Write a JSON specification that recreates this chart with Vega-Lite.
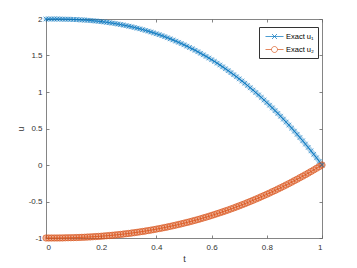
{
  "$schema": "https://vega.github.io/schema/vega-lite/v6.json",
  "autosize": "none",
  "padding": {"left": 46, "top": 19, "right": 35, "bottom": 30},
  "width": 276,
  "height": 219,
  "background": "white",
  "config": {
    "font": "Liberation Sans",
    "view": {"stroke": null},
    "axis": {
      "domainColor": "#666666",
      "domainWidth": 0.8,
      "tickColor": "#666666",
      "tickWidth": 0.8,
      "tickSize": -3,
      "labelFont": "Liberation Sans",
      "labelFontSize": 8,
      "labelColor": "#333333",
      "titleFont": "Liberation Sans",
      "titleFontSize": 9,
      "titleFontWeight": "normal",
      "titleColor": "#333333",
      "grid": false
    }
  },
  "data": {"values": [
    {"t":0.00,"u1":2.0000,"u2":-1.0000},
    {"t":0.01,"u1":2.0000,"u2":-1.0000},
    {"t":0.02,"u1":1.9999,"u2":-0.9999},
    {"t":0.03,"u1":1.9997,"u2":-0.9997},
    {"t":0.04,"u1":1.9994,"u2":-0.9994},
    {"t":0.05,"u1":1.9989,"u2":-0.9990},
    {"t":0.06,"u1":1.9982,"u2":-0.9985},
    {"t":0.07,"u1":1.9974,"u2":-0.9978},
    {"t":0.08,"u1":1.9964,"u2":-0.9970},
    {"t":0.09,"u1":1.9951,"u2":-0.9961},
    {"t":0.10,"u1":1.9937,"u2":-0.9950},
    {"t":0.11,"u1":1.9920,"u2":-0.9938},
    {"t":0.12,"u1":1.9900,"u2":-0.9924},
    {"t":0.13,"u1":1.9878,"u2":-0.9908},
    {"t":0.14,"u1":1.9853,"u2":-0.9891},
    {"t":0.15,"u1":1.9826,"u2":-0.9873},
    {"t":0.16,"u1":1.9795,"u2":-0.9852},
    {"t":0.17,"u1":1.9762,"u2":-0.9830},
    {"t":0.18,"u1":1.9725,"u2":-0.9807},
    {"t":0.19,"u1":1.9685,"u2":-0.9781},
    {"t":0.20,"u1":1.9642,"u2":-0.9753},
    {"t":0.21,"u1":1.9596,"u2":-0.9724},
    {"t":0.22,"u1":1.9546,"u2":-0.9693},
    {"t":0.23,"u1":1.9493,"u2":-0.9660},
    {"t":0.24,"u1":1.9436,"u2":-0.9625},
    {"t":0.25,"u1":1.9375,"u2":-0.9587},
    {"t":0.26,"u1":1.9310,"u2":-0.9549},
    {"t":0.27,"u1":1.9242,"u2":-0.9508},
    {"t":0.28,"u1":1.9170,"u2":-0.9465},
    {"t":0.29,"u1":1.9094,"u2":-0.9420},
    {"t":0.30,"u1":1.9014,"u2":-0.9373},
    {"t":0.31,"u1":1.8930,"u2":-0.9324},
    {"t":0.32,"u1":1.8842,"u2":-0.9272},
    {"t":0.33,"u1":1.8749,"u2":-0.9219},
    {"t":0.34,"u1":1.8652,"u2":-0.9164},
    {"t":0.35,"u1":1.8551,"u2":-0.9106},
    {"t":0.36,"u1":1.8444,"u2":-0.9047},
    {"t":0.37,"u1":1.8335,"u2":-0.8984},
    {"t":0.38,"u1":1.8220,"u2":-0.8921},
    {"t":0.39,"u1":1.8100,"u2":-0.8853},
    {"t":0.40,"u1":1.7976,"u2":-0.8784},
    {"t":0.41,"u1":1.7847,"u2":-0.8714},
    {"t":0.42,"u1":1.7714,"u2":-0.8641},
    {"t":0.43,"u1":1.7575,"u2":-0.8564},
    {"t":0.44,"u1":1.7432,"u2":-0.8486},
    {"t":0.45,"u1":1.7283,"u2":-0.8407},
    {"t":0.46,"u1":1.7130,"u2":-0.8326},
    {"t":0.47,"u1":1.6971,"u2":-0.8239},
    {"t":0.48,"u1":1.6808,"u2":-0.8151},
    {"t":0.49,"u1":1.6639,"u2":-0.8060},
    {"t":0.50,"u1":1.6464,"u2":-0.7969},
    {"t":0.51,"u1":1.6285,"u2":-0.7875},
    {"t":0.52,"u1":1.6100,"u2":-0.7778},
    {"t":0.53,"u1":1.5910,"u2":-0.7678},
    {"t":0.54,"u1":1.5714,"u2":-0.7576},
    {"t":0.55,"u1":1.5513,"u2":-0.7471},
    {"t":0.56,"u1":1.5306,"u2":-0.7366},
    {"t":0.57,"u1":1.5094,"u2":-0.7255},
    {"t":0.58,"u1":1.4876,"u2":-0.7146},
    {"t":0.59,"u1":1.4652,"u2":-0.7029},
    {"t":0.60,"u1":1.4422,"u2":-0.6912},
    {"t":0.61,"u1":1.4188,"u2":-0.6792},
    {"t":0.62,"u1":1.3946,"u2":-0.6668},
    {"t":0.63,"u1":1.3700,"u2":-0.6545},
    {"t":0.64,"u1":1.3446,"u2":-0.6416},
    {"t":0.65,"u1":1.3188,"u2":-0.6288},
    {"t":0.66,"u1":1.2922,"u2":-0.6160},
    {"t":0.67,"u1":1.2651,"u2":-0.6019},
    {"t":0.68,"u1":1.2374,"u2":-0.5885},
    {"t":0.69,"u1":1.2090,"u2":-0.5740},
    {"t":0.70,"u1":1.1800,"u2":-0.5600},
    {"t":0.71,"u1":1.1505,"u2":-0.5452},
    {"t":0.72,"u1":1.1202,"u2":-0.5309},
    {"t":0.73,"u1":1.0894,"u2":-0.5152},
    {"t":0.74,"u1":1.0578,"u2":-0.4995},
    {"t":0.75,"u1":1.0257,"u2":-0.4841},
    {"t":0.76,"u1":0.9930,"u2":-0.4674},
    {"t":0.77,"u1":0.9595,"u2":-0.4518},
    {"t":0.78,"u1":0.9254,"u2":-0.4345},
    {"t":0.79,"u1":0.8906,"u2":-0.4184},
    {"t":0.80,"u1":0.8552,"u2":-0.4013},
    {"t":0.81,"u1":0.8190,"u2":-0.3842},
    {"t":0.82,"u1":0.7822,"u2":-0.3656},
    {"t":0.83,"u1":0.7448,"u2":-0.3487},
    {"t":0.84,"u1":0.7066,"u2":-0.3297},
    {"t":0.85,"u1":0.6678,"u2":-0.3120},
    {"t":0.86,"u1":0.6282,"u2":-0.2932},
    {"t":0.87,"u1":0.5880,"u2":-0.2739},
    {"t":0.88,"u1":0.5470,"u2":-0.2547},
    {"t":0.89,"u1":0.5055,"u2":-0.2351},
    {"t":0.90,"u1":0.4632,"u2":-0.2149},
    {"t":0.91,"u1":0.4201,"u2":-0.1950},
    {"t":0.92,"u1":0.3762,"u2":-0.1739},
    {"t":0.93,"u1":0.3318,"u2":-0.1538},
    {"t":0.94,"u1":0.2866,"u2":-0.1332},
    {"t":0.95,"u1":0.2407,"u2":-0.1113},
    {"t":0.96,"u1":0.1940,"u2":-0.0897},
    {"t":0.97,"u1":0.1466,"u2":-0.0677},
    {"t":0.98,"u1":0.0986,"u2":-0.0450},
    {"t":0.99,"u1":0.0496,"u2":-0.0229},
    {"t":1.00,"u1":0.0000,"u2":0.0000}
  ]},
  "transform": [{"fold": ["u1", "u2"], "as": ["series", "u"]}],
  "layer": [
    {
      "transform": [{"filter": "datum.series === 'u1'"}],
      "mark": {"type": "line", "strokeWidth": 5, "opacity": 0.3, "strokeCap": "round"},
      "encoding": {
        "x": {"field": "t", "type": "quantitative", "axis": null},
        "y": {"field": "u", "type": "quantitative", "axis": null},
        "color": {"field": "series", "type": "nominal"}
      }
    },
    {
      "transform": [{"filter": "datum.series === 'u2'"}],
      "mark": {"type": "line", "strokeWidth": 6.5, "opacity": 0.45, "strokeCap": "round"},
      "encoding": {
        "x": {"field": "t", "type": "quantitative", "axis": null},
        "y": {"field": "u", "type": "quantitative", "axis": null},
        "color": {"field": "series", "type": "nominal"}
      }
    },
    {
      "mark": {"type": "line", "strokeWidth": 0.8},
      "encoding": {
        "x": {"field": "t", "type": "quantitative", "scale": {"domain": [0, 1], "nice": false},
              "axis": {"orient": "bottom", "values": [0, 0.2, 0.4, 0.6, 0.8, 1], "labelExpr": "toString(datum.value)", "title": "t", "labelPadding": 8, "titlePadding": 3}},
        "y": {"field": "u", "type": "quantitative", "scale": {"domain": [-1, 2], "nice": false, "zero": false},
              "axis": {"orient": "left", "values": [-1, -0.5, 0, 0.5, 1, 1.5, 2], "labelExpr": "toString(datum.value)", "title": "u", "labelPadding": 7, "titlePadding": 3}},
        "color": {"field": "series", "type": "nominal",
                  "scale": {"domain": ["u1", "u2"], "range": ["#0072BD", "#D95319"]},
                  "legend": {
                    "orient": "none", "legendX": 213, "legendY": 8,
                    "title": null,
                    "strokeColor": "#333333", "fillColor": "white",
                    "padding": 4, "rowPadding": 3,
                    "labelFontSize": 7.5, "labelFont": "Liberation Sans", "labelColor": "#000000", "labelFontWeight": "normal",
                    "labelExpr": "datum.value === 'u1' ? 'Exact u₁' : 'Exact u₂'",
                    "symbolSize": 100, "symbolStrokeWidth": 0.7, "symbolFillColor": "white",
                    "symbolOffset": 6, "labelOffset": 6,
                    "encode": {"symbols": {"update": {"shape": {"signal": "datum.value === 'u1' ? 'M-1.8,0H1.8M-0.5,-0.5L0.5,0.5M-0.5,0.5L0.5,-0.5' : 'M-1.8,0H-0.6M0.6,0H1.8M0.6,0A0.6,0.6 0 1 1 -0.6,0A0.6,0.6 0 1 1 0.6,0'"}}}}
                  }}
      }
    },
    {
      "transform": [{"filter": "datum.series === 'u1'"}],
      "mark": {"type": "point", "filled": false, "strokeWidth": 0.6, "size": 22, "opacity": 1, "shape": "M-1,-1L1,1M-1,1L1,-1"},
      "encoding": {
        "x": {"field": "t", "type": "quantitative", "axis": null},
        "y": {"field": "u", "type": "quantitative", "axis": null},
        "color": {"field": "series", "type": "nominal"}
      }
    },
    {
      "transform": [{"filter": "datum.series === 'u2'"}],
      "mark": {"type": "point", "filled": false, "strokeWidth": 0.6, "size": 40, "opacity": 1, "shape": "circle"},
      "encoding": {
        "x": {"field": "t", "type": "quantitative", "axis": null},
        "y": {"field": "u", "type": "quantitative", "axis": null},
        "color": {"field": "series", "type": "nominal"}
      }
    },
    {
      "mark": {"type": "point", "opacity": 0},
      "encoding": {
        "x": {"field": "t", "type": "quantitative",
              "axis": {"orient": "top", "values": [0, 0.2, 0.4, 0.6, 0.8, 1], "labels": false, "title": null}},
        "y": {"field": "u", "type": "quantitative",
              "axis": {"orient": "right", "values": [-1, -0.5, 0, 0.5, 1, 1.5, 2], "labels": false, "title": null}}
      }
    }
  ],
  "resolve": {"axis": {"x": "independent", "y": "independent"}}
}
